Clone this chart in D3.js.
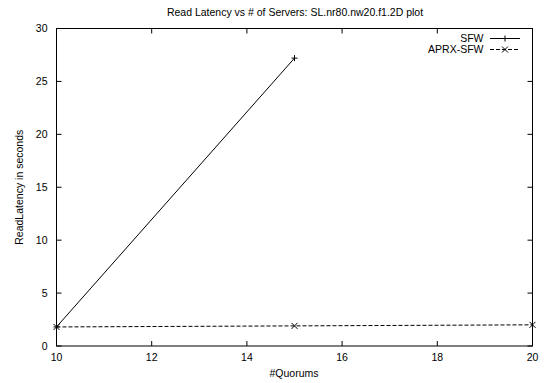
<!DOCTYPE html>
<html>
<head>
<meta charset="utf-8">
<script src="https://cdn.jsdelivr.net/npm/d3@7"></script>
<style>
  html, body { margin: 0; padding: 0; background: #fff; }
  svg { display: block; font-family: "Liberation Sans", Arial, sans-serif; }
</style>
</head>
<body>
<script>
// Read latency per number of quorums
const quorumsSFW = [10, 15];
const latencySFW = [1.8, 27.2];
const quorumsAPRX = [10, 15, 20];
const latencyAPRX = [1.8, 1.9, 2.0];
const xTicks = [10, 12, 14, 16, 18, 20];
const yTicks = [0, 5, 10, 15, 20, 25, 30];
const seriesNames = ["SFW", "APRX-SFW"];

const W = 555, H = 383;
const m = { left: 56.5, right: 22.5, top: 28.5, bottom: 37 };
const svg = d3.select("body").append("svg").attr("width", W).attr("height", H);

const x = d3.scaleLinear().domain([10, 20]).range([m.left, W - m.right]);
const y = d3.scaleLinear().domain([0, 30]).range([H - m.bottom, m.top]);
const fs = 10.5;

// frame
svg.append("rect")
  .attr("x", x(10)).attr("y", y(30))
  .attr("width", x(20) - x(10)).attr("height", y(0) - y(30))
  .attr("fill", "none").attr("stroke", "#000").attr("stroke-width", 1);

// ticks on all four sides
const tl = 5;
const g = svg.append("g").attr("stroke", "#000").attr("stroke-width", 1);
xTicks.forEach(t => {
  g.append("line").attr("x1", x(t)).attr("x2", x(t)).attr("y1", y(0)).attr("y2", y(0) - tl);
  g.append("line").attr("x1", x(t)).attr("x2", x(t)).attr("y1", y(30)).attr("y2", y(30) + tl);
});
yTicks.forEach(t => {
  g.append("line").attr("x1", x(10)).attr("x2", x(10) + tl).attr("y1", y(t)).attr("y2", y(t));
  g.append("line").attr("x1", x(20)).attr("x2", x(20) - tl).attr("y1", y(t)).attr("y2", y(t));
});

// tick labels
svg.append("g").selectAll("text").data(xTicks).join("text")
  .attr("x", d => x(d)).attr("y", y(0) + 15)
  .attr("text-anchor", "middle").attr("font-size", fs).attr("fill", "#000")
  .text(d => d);
svg.append("g").selectAll("text").data(yTicks).join("text")
  .attr("x", x(10) - 9).attr("y", d => y(d)).attr("dy", "0.35em")
  .attr("text-anchor", "end").attr("font-size", fs).attr("fill", "#000")
  .text(d => d);

// titles
svg.append("text").attr("x", 295).attr("y", 16)
  .attr("text-anchor", "middle").attr("font-size", fs)
  .text("Read Latency vs # of Servers: SL.nr80.nw20.f1.2D plot");
svg.append("text").attr("x", 294).attr("y", 377)
  .attr("text-anchor", "middle").attr("font-size", fs)
  .text("#Quorums");
svg.append("text").attr("transform", `translate(23,${(y(0) + y(30)) / 2}) rotate(-90)`)
  .attr("text-anchor", "middle").attr("font-size", fs)
  .text("ReadLatency in seconds");

const line = d3.line().x(d => x(d[0])).y(d => y(d[1]));
const sfw = quorumsSFW.map((q, i) => [q, latencySFW[i]]);
const aprx = quorumsAPRX.map((q, i) => [q, latencyAPRX[i]]);

svg.append("path").datum(sfw).attr("d", line)
  .attr("fill", "none").attr("stroke", "#000").attr("stroke-width", 1);
svg.append("path").datum(aprx).attr("d", line)
  .attr("fill", "none").attr("stroke", "#000").attr("stroke-width", 1)
  .attr("stroke-dasharray", "4,2");

const s = 3;
function plus(sel, cx, cy) {
  sel.append("path").attr("d", `M${cx - s},${cy}H${cx + s}M${cx},${cy - s}V${cy + s}`)
    .attr("stroke", "#000").attr("stroke-width", 1);
}
function cross(sel, cx, cy) {
  sel.append("path").attr("d", `M${cx - s},${cy - s}L${cx + s},${cy + s}M${cx - s},${cy + s}L${cx + s},${cy - s}`)
    .attr("stroke", "#000").attr("stroke-width", 1);
}
const pts = svg.append("g");
sfw.forEach(d => plus(pts, x(d[0]), y(d[1])));
aprx.forEach(d => cross(pts, x(d[0]), y(d[1])));

// legend
const lg = svg.append("g");
const ly = [38.5, 49.5];
seriesNames.forEach((n, i) => {
  lg.append("text").attr("x", 483.5).attr("y", ly[i]).attr("dy", "0.35em")
    .attr("text-anchor", "end").attr("font-size", fs).text(n);
  const l = lg.append("line").attr("x1", 490).attr("x2", 520).attr("y1", ly[i]).attr("y2", ly[i])
    .attr("stroke", "#000").attr("stroke-width", 1);
  if (i === 1) l.attr("stroke-dasharray", "4,2");
  if (i === 0) plus(lg, 505, ly[i]); else cross(lg, 505, ly[i]);
});
</script>
</body>
</html>
